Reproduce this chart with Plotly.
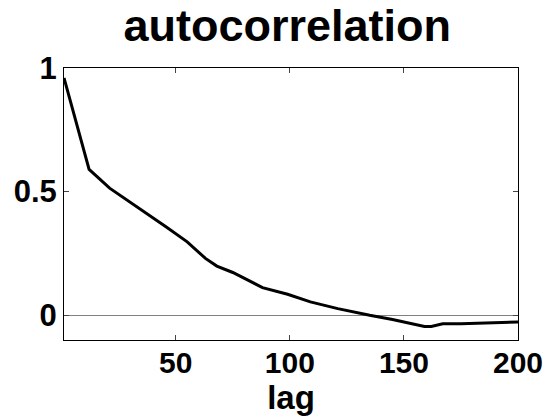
import plotly.graph_objects as go

lags = [1, 12, 21, 33, 39, 46, 55, 63, 68, 75, 88, 99, 109, 121, 135, 145, 159, 162, 167, 175, 200]
acf = [0.96, 0.59, 0.514, 0.439, 0.399, 0.356, 0.297, 0.230, 0.199, 0.173, 0.112, 0.085,
       0.054, 0.027, 0.0, -0.017, -0.045, -0.045, -0.034, -0.034, -0.027]

x_ticks = [50, 100, 150, 200]
y_ticks = [0, 0.5, 1]
y_tick_text = ["0", "0.5", "1"]

FONT = "Liberation Sans, Arial, Helvetica, sans-serif"

fig = go.Figure()
fig.add_trace(go.Scatter(x=lags, y=acf, mode="lines",
                         line=dict(color="black", width=3), showlegend=False))

fig.update_layout(
    width=547, height=417,
    margin=dict(l=64, r=29, t=68, b=77, autoexpand=False),
    paper_bgcolor="white", plot_bgcolor="white",
    font=dict(family=FONT, color="black", size=30, weight="bold"),
    title=dict(text="autocorrelation", x=0.525, xanchor="center",
               y=0.94, yanchor="middle",
               font=dict(size=45, family=FONT, weight="bold")),
)
fig.update_xaxes(range=[1, 200], tickvals=x_ticks, ticks="inside", ticklen=5,
                 tickcolor="#444", showline=True, linecolor="black", linewidth=1,
                 mirror="ticks", showgrid=False, zeroline=False, automargin=False,
                 tickfont=dict(size=30, weight="bold"), ticklabelstandoff=-4,
                 title=dict(text="lag", standoff=2, font=dict(size=33, weight="bold")))
fig.update_yaxes(range=[-0.1, 1], tickvals=y_ticks, ticktext=y_tick_text,
                 ticks="inside", ticklen=5, tickcolor="#444",
                 showline=True, linecolor="black", linewidth=1, mirror="ticks",
                 showgrid=False, zeroline=True, zerolinecolor="#808080", zerolinewidth=1,
                 automargin=False,
                 tickfont=dict(size=31, weight="bold"), ticklabelstandoff=0)

fig.write_html("out.html")
